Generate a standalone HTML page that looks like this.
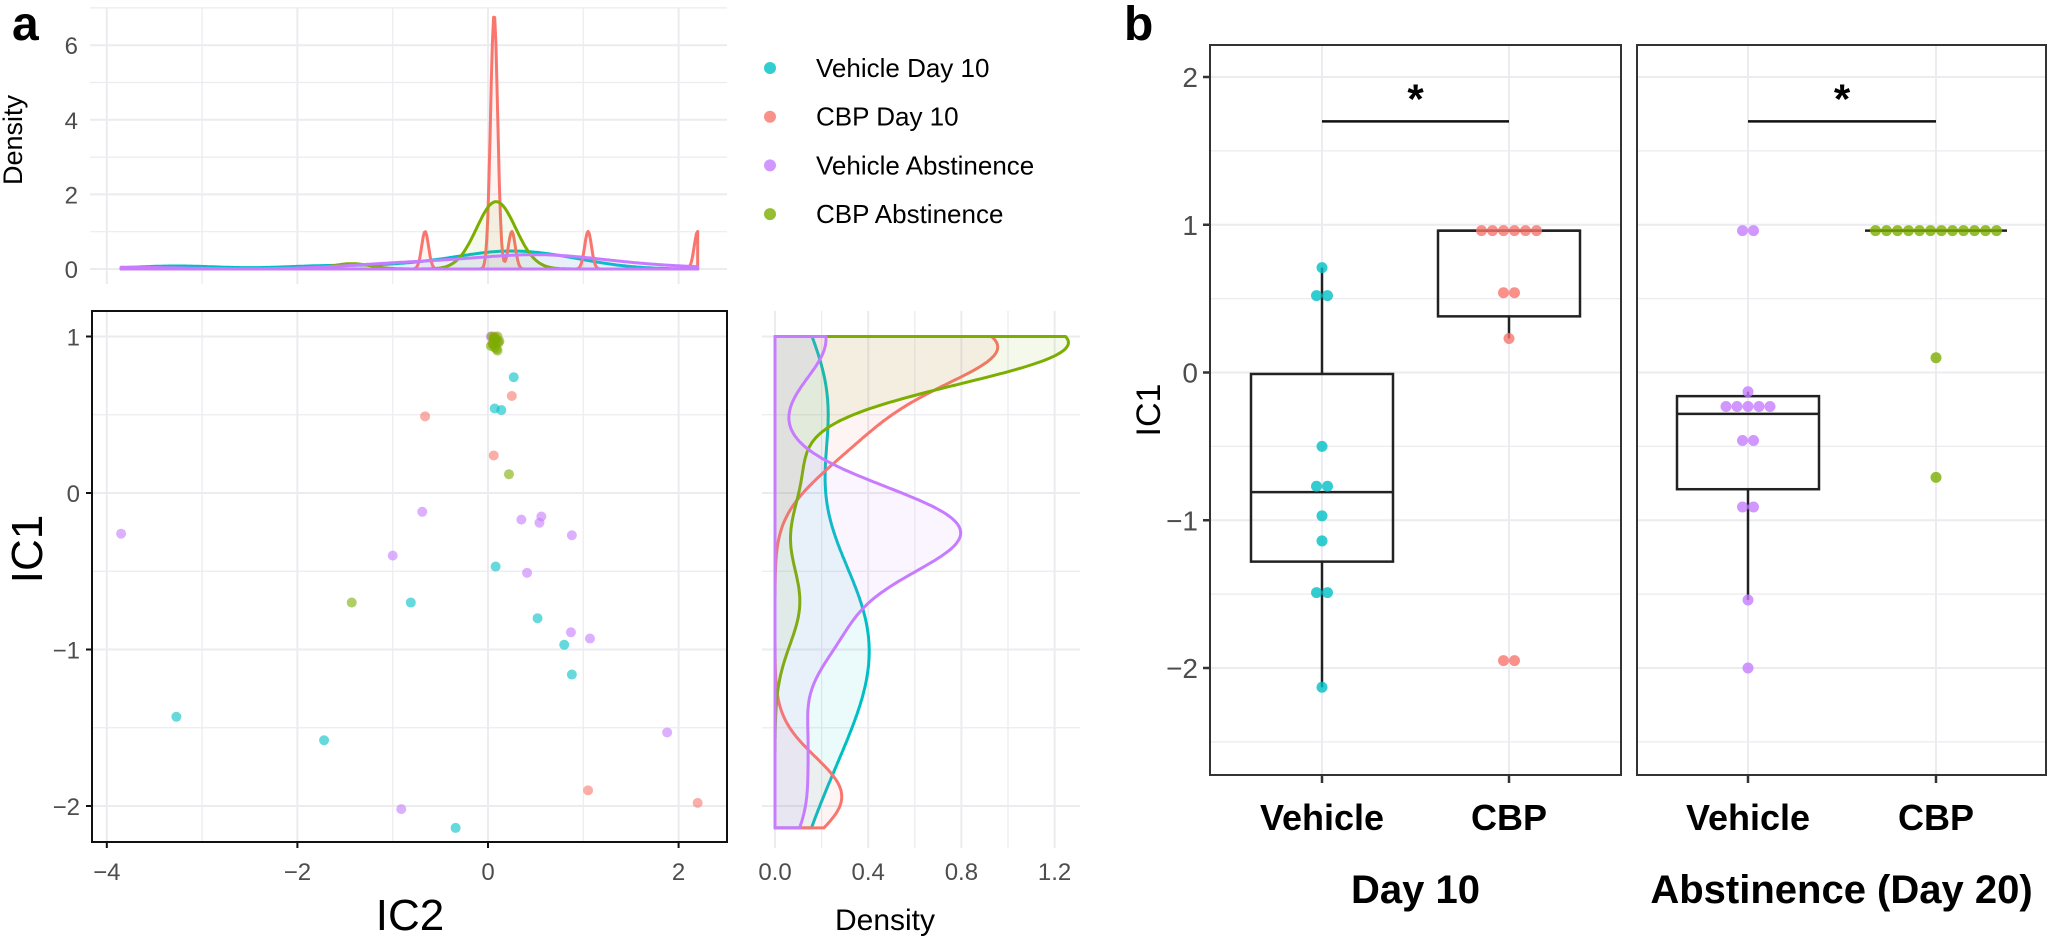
<!DOCTYPE html>
<html><head><meta charset="utf-8"><style>
html,body{margin:0;padding:0;background:#fff;}
svg{display:block;font-family:"Liberation Sans",sans-serif;}
</style></head><body>
<svg id="fig" width="2048" height="940" viewBox="0 0 2048 940" xmlns="http://www.w3.org/2000/svg"></svg>
<script>
// ---------- Panel a data: scatter IC2 (x) vs IC1 (y) ----------
const groupNames = ["Vehicle Day 10","CBP Day 10","Vehicle Abstinence","CBP Abstinence"];
const groupColors = ["#00BFC4","#F8766D","#C77CFF","#7CAE00"];
const vehD10_ic2 = [0.27,0.07,0.14,0.08,-0.81,0.52,0.80,0.88,-3.27,-1.72,-0.34];
const vehD10_ic1 = [0.74,0.54,0.53,-0.47,-0.70,-0.80,-0.97,-1.16,-1.43,-1.58,-2.14];
const cbpD10_ic2 = [0.25,-0.66,0.06,0.05,0.06,0.07,0.06,0.08,0.07,1.05,2.20];
const cbpD10_ic1 = [0.62,0.49,0.24,0.96,0.98,1.00,0.95,0.99,0.97,-1.90,-1.98];
const vehAb_ic2 = [0.03,0.10,-3.85,-0.69,0.35,0.54,0.56,-1.00,0.41,0.88,0.87,1.07,1.88,-0.91];
const vehAb_ic1 = [1.00,0.97,-0.26,-0.12,-0.17,-0.19,-0.15,-0.40,-0.51,-0.27,-0.89,-0.93,-1.53,-2.02];
const cbpAb_ic2 = [0.04,0.06,0.08,0.10,0.12,0.05,0.07,0.09,0.11,0.03,0.06,0.10,0.22,-1.43];
const cbpAb_ic1 = [1.00,0.99,0.98,1.00,0.97,0.95,0.93,0.92,0.96,0.94,0.99,0.91,0.12,-0.70];
const bwTop = [0.45,0.036,0.6,0.2];
const bwRight = [0.5,0.25,0.26,0.27];
const scatterXTicks = [-4,-2,0,2];
const scatterYTicks = [1,0,-1,-2];
const topDensTicks = [0,2,4,6];
const rightDensTicks = [0.0,0.4,0.8,1.2];
const rightDensTickLabels = ["0.0","0.4","0.8","1.2"];

// ---------- Panel b data ----------
const facetNames = ["Day 10","Abstinence (Day 20)"];
const catNames = ["Vehicle","CBP"];
const bVehD10 = [0.71,0.52,0.52,-0.50,-0.77,-0.77,-0.97,-1.14,-1.49,-1.49,-2.13];
const bCbpD10 = [0.96,0.96,0.96,0.96,0.96,0.96,0.54,0.54,0.23,-1.95,-1.95];
const bVehAb = [0.96,0.96,-0.13,-0.23,-0.23,-0.23,-0.23,-0.23,-0.46,-0.46,-0.91,-0.91,-1.54,-2.00];
const bCbpAb = [0.96,0.96,0.96,0.96,0.96,0.96,0.96,0.96,0.96,0.96,0.96,0.96,0.10,-0.71];
const boxQ1 = [-1.28,0.38,-0.79,0.96];
const boxMed = [-0.81,0.96,-0.28,0.96];
const boxQ3 = [-0.01,0.96,-0.16,0.96];
const whiskLo = [-2.13,0.23,-1.54,0.96];
const whiskHi = [0.71,0.96,-0.13,0.96];
const bYTicks = [2,1,0,-1,-2];
const sigLevel = [1.7,1.7];

// ---------- helpers ----------
const NS="http://www.w3.org/2000/svg";
const svg=document.getElementById('fig');
function mk(tag,attrs,parent){const e=document.createElementNS(NS,tag);for(const k in attrs)e.setAttribute(k,attrs[k]);(parent||svg).appendChild(e);return e;}
function txt(s,attrs,parent){const e=mk('text',attrs,parent);e.textContent=s;return e;}
function hexA(h,a){const r=parseInt(h.slice(1,3),16),g=parseInt(h.slice(3,5),16),b=parseInt(h.slice(5,7),16);return `rgba(${r},${g},${b},${a})`;}

const sx=v=>488+95.3*v, sy=v=>493-156.5*v;
const ty=d=>269-37.3*d;
const rx=d=>775+233*d;
const by=v=>372.5-147.75*v;
const catX=[[1322,1509],[1748,1936]];
const GRID="#ebebf0";

const ic2s=[vehD10_ic2,cbpD10_ic2,vehAb_ic2,cbpAb_ic2];
const ic1s=[vehD10_ic1,cbpD10_ic1,vehAb_ic1,cbpAb_ic1];

function kde(data,h,x){let s=0;for(const v of data){const z=(x-v)/h;s+=Math.exp(-0.5*z*z);}return s/(data.length*h*Math.sqrt(2*Math.PI));}

let t;
t=txt('a',{x:12,y:40,'font-size':48,'font-weight':'bold'});

t=txt('b',{x:1124,y:40,'font-size':48,'font-weight':'bold'});


// ---------- top density panel ----------
const gTop=mk('g',{});

for(let d=0;d<=7;d++){mk('line',{x1:90,x2:727,y1:ty(d),y2:ty(d),stroke:GRID,'stroke-width':d%2?1.2:2},gTop);}
for(let v=-4;v<=2;v++){mk('line',{x1:sx(v),x2:sx(v),y1:8,y2:284,stroke:GRID,'stroke-width':v%2?1.2:2},gTop);}
topDensTicks.forEach(d=>{const e=txt(String(d),{x:78,y:ty(d)+9,'font-size':24,fill:'#4d4d4d','text-anchor':'end'},gTop);
 });
t=txt('Density',{x:0,y:0,'font-size':27,transform:'translate(22,140) rotate(-90)','text-anchor':'middle'},gTop);


const allIc2=[].concat(...ic2s), allIc1=[].concat(...ic1s);
const mn2=Math.min(...allIc2), mx2=Math.max(...allIc2);
const mn1=Math.min(...allIc1), mx1=Math.max(...allIc1);
const order=[0,1,3,2];
order.forEach(gi=>{
 let pts=[];const N=500;
 for(let i=0;i<=N;i++){const x=mn2+(mx2-mn2)*i/N;pts.push(sx(x).toFixed(1)+','+ty(kde(ic2s[gi],bwTop[gi],x)).toFixed(1));}
 const d='M'+sx(mn2)+','+ty(0)+' L'+pts.join(' L')+' L'+sx(mx2)+','+ty(0)+' Z';
 const p=mk('path',{d:d,fill:hexA(groupColors[gi],0.08),stroke:groupColors[gi],'stroke-width':3,'stroke-linejoin':'round'},gTop);
 
});

// ---------- legend ----------
const gLeg=mk('g',{});

groupNames.forEach((n,i)=>{
 const y=68+48.7*i;
 const c=mk('circle',{cx:770,cy:y,r:6,fill:groupColors[i],'fill-opacity':0.8},gLeg);
 
 const e=txt(n,{x:816,y:y+9,'font-size':26},gLeg);
 
});

// ---------- scatter ----------
const gSc=mk('g',{});

for(let v=-4;v<=2;v++){mk('line',{x1:sx(v),x2:sx(v),y1:311,y2:842,stroke:GRID,'stroke-width':v%2?1.2:2},gSc);}
for(let v=1;v>=-2;v-=0.5){mk('line',{x1:92,x2:727,y1:sy(v),y2:sy(v),stroke:GRID,'stroke-width':Number.isInteger(v)?2:1.2},gSc);}
[2,0,1,3].forEach(gi=>{
 ic2s[gi].forEach((x,j)=>{
  const c=mk('circle',{cx:sx(x),cy:sy(ic1s[gi][j]),r:5,fill:groupColors[gi],'fill-opacity':0.6},gSc);
  
 });
});
mk('rect',{x:92,y:311,width:635,height:531,fill:'none',stroke:'#111','stroke-width':2},gSc);
scatterYTicks.forEach(v=>{mk('line',{x1:86,x2:92,y1:sy(v),y2:sy(v),stroke:'#111','stroke-width':2},gSc);
 const e=txt(v<0?'\u2212'+(-v):String(v),{x:80,y:sy(v)+9,'font-size':24,fill:'#4d4d4d','text-anchor':'end'},gSc);
 });
scatterXTicks.forEach(v=>{mk('line',{x1:sx(v),x2:sx(v),y1:842,y2:848,stroke:'#111','stroke-width':2},gSc);
 const e=txt(v<0?'\u2212'+(-v):String(v),{x:sx(v),y:880,'font-size':24,fill:'#4d4d4d','text-anchor':'middle'},gSc);
 });
t=txt('IC2',{x:410,y:930,'font-size':44,'text-anchor':'middle'},gSc);

t=txt('IC1',{x:0,y:0,'font-size':44,transform:'translate(42,549) rotate(-90)','text-anchor':'middle'},gSc);


// ---------- right density ----------
const gR=mk('g',{});

for(let d=0;d<=1.21;d+=0.2){mk('line',{x1:rx(d),x2:rx(d),y1:311,y2:848,stroke:GRID,'stroke-width':Math.round(d*10)%4==0?2:1.2},gR);}
for(let v=1;v>=-2;v-=0.5){mk('line',{x1:762,x2:1080,y1:sy(v),y2:sy(v),stroke:GRID,'stroke-width':Number.isInteger(v)?2:1.2},gR);}
order.forEach(gi=>{
 let pts=[];const N=500;
 for(let i=0;i<=N;i++){const y=mn1+(mx1-mn1)*i/N;pts.push(rx(kde(ic1s[gi],bwRight[gi],y)).toFixed(1)+','+sy(y).toFixed(1));}
 const d='M'+rx(0)+','+sy(mn1)+' L'+pts.join(' L')+' L'+rx(0)+','+sy(mx1)+' Z';
 const p=mk('path',{d:d,fill:hexA(groupColors[gi],0.08),stroke:groupColors[gi],'stroke-width':3,'stroke-linejoin':'round'},gR);
 
});
rightDensTicks.forEach((d,i)=>{const e=txt(rightDensTickLabels[i],{x:rx(d),y:880,'font-size':24,fill:'#4d4d4d','text-anchor':'middle'},gR);
 });
t=txt('Density',{x:885,y:930,'font-size':30,'text-anchor':'middle'},gR);


// ---------- panel b ----------
const gB=mk('g',{});

const facetRects=[[1210,1621],[1637,2046]];
const bData=[bVehD10,bCbpD10,bVehAb,bCbpAb];
const bColors=[groupColors[0],groupColors[1],groupColors[2],groupColors[3]];
facetRects.forEach((r,f)=>{
 for(let v=2;v>=-2.5;v-=0.5){mk('line',{x1:r[0],x2:r[1],y1:by(v),y2:by(v),stroke:GRID,'stroke-width':Number.isInteger(v)?2:1.2},gB);}
 catX[f].forEach(x=>mk('line',{x1:x,x2:x,y1:45,y2:775,stroke:GRID,'stroke-width':2},gB));
});
for(let k=0;k<4;k++){
 const f=Math.floor(k/2), cx=catX[f][k%2], hw=71;
 const g=mk('g',{},gB);
 
 
 mk('line',{x1:cx,x2:cx,y1:by(whiskHi[k]),y2:by(boxQ3[k]),stroke:'#222','stroke-width':2.5},g);
 mk('line',{x1:cx,x2:cx,y1:by(boxQ1[k]),y2:by(whiskLo[k]),stroke:'#222','stroke-width':2.5},g);
 mk('rect',{x:cx-hw,y:by(boxQ3[k]),width:2*hw,height:Math.max(0,by(boxQ1[k])-by(boxQ3[k])),fill:'none',stroke:'#222','stroke-width':2.5},g);
 mk('line',{x1:cx-hw,x2:cx+hw,y1:by(boxMed[k]),y2:by(boxMed[k]),stroke:'#222','stroke-width':2.5},g);
 const counts={};bData[k].forEach(v=>{counts[v]=(counts[v]||0)+1;});
 const seen={};
 bData[k].forEach(v=>{const n=counts[v];const i=seen[v]||0;seen[v]=i+1;
  const c=mk('circle',{cx:cx+(i-(n-1)/2)*11,cy:by(v),r:5.5,fill:bColors[k],'fill-opacity':0.8},g);
  });
}
facetRects.forEach((r,f)=>{
 mk('rect',{x:r[0],y:45,width:r[1]-r[0],height:730,fill:'none',stroke:'#333','stroke-width':2},gB);
 catX[f].forEach((x,i)=>{mk('line',{x1:x,x2:x,y1:775,y2:783,stroke:'#333','stroke-width':2.5},gB);
  const e=txt(catNames[i],{x:x,y:830,'font-size':36,'font-weight':'bold','text-anchor':'middle'},gB);
  });
 const e=txt(facetNames[f],{x:(r[0]+r[1])/2,y:903,'font-size':40,'font-weight':'bold','text-anchor':'middle'},gB);
 
 const sl=mk('line',{x1:catX[f][0],x2:catX[f][1],y1:by(sigLevel[f]),y2:by(sigLevel[f]),stroke:'#111','stroke-width':2.5},gB);
 
 const st=txt('*',{x:(catX[f][0]+catX[f][1])/2,y:by(sigLevel[f])-8,'font-size':42,'font-weight':'bold','text-anchor':'middle'},gB);
 
});
bYTicks.forEach(v=>{mk('line',{x1:1203,x2:1210,y1:by(v),y2:by(v),stroke:'#333','stroke-width':2.5},gB);
 const e=txt(v<0?'\u2212'+(-v):String(v),{x:1198,y:by(v)+10,'font-size':28,fill:'#4d4d4d','text-anchor':'end'},gB);
 });
t=txt('IC1',{x:0,y:0,'font-size':34,transform:'translate(1160,410) rotate(-90)','text-anchor':'middle'},gB);

</script>
</body></html>
